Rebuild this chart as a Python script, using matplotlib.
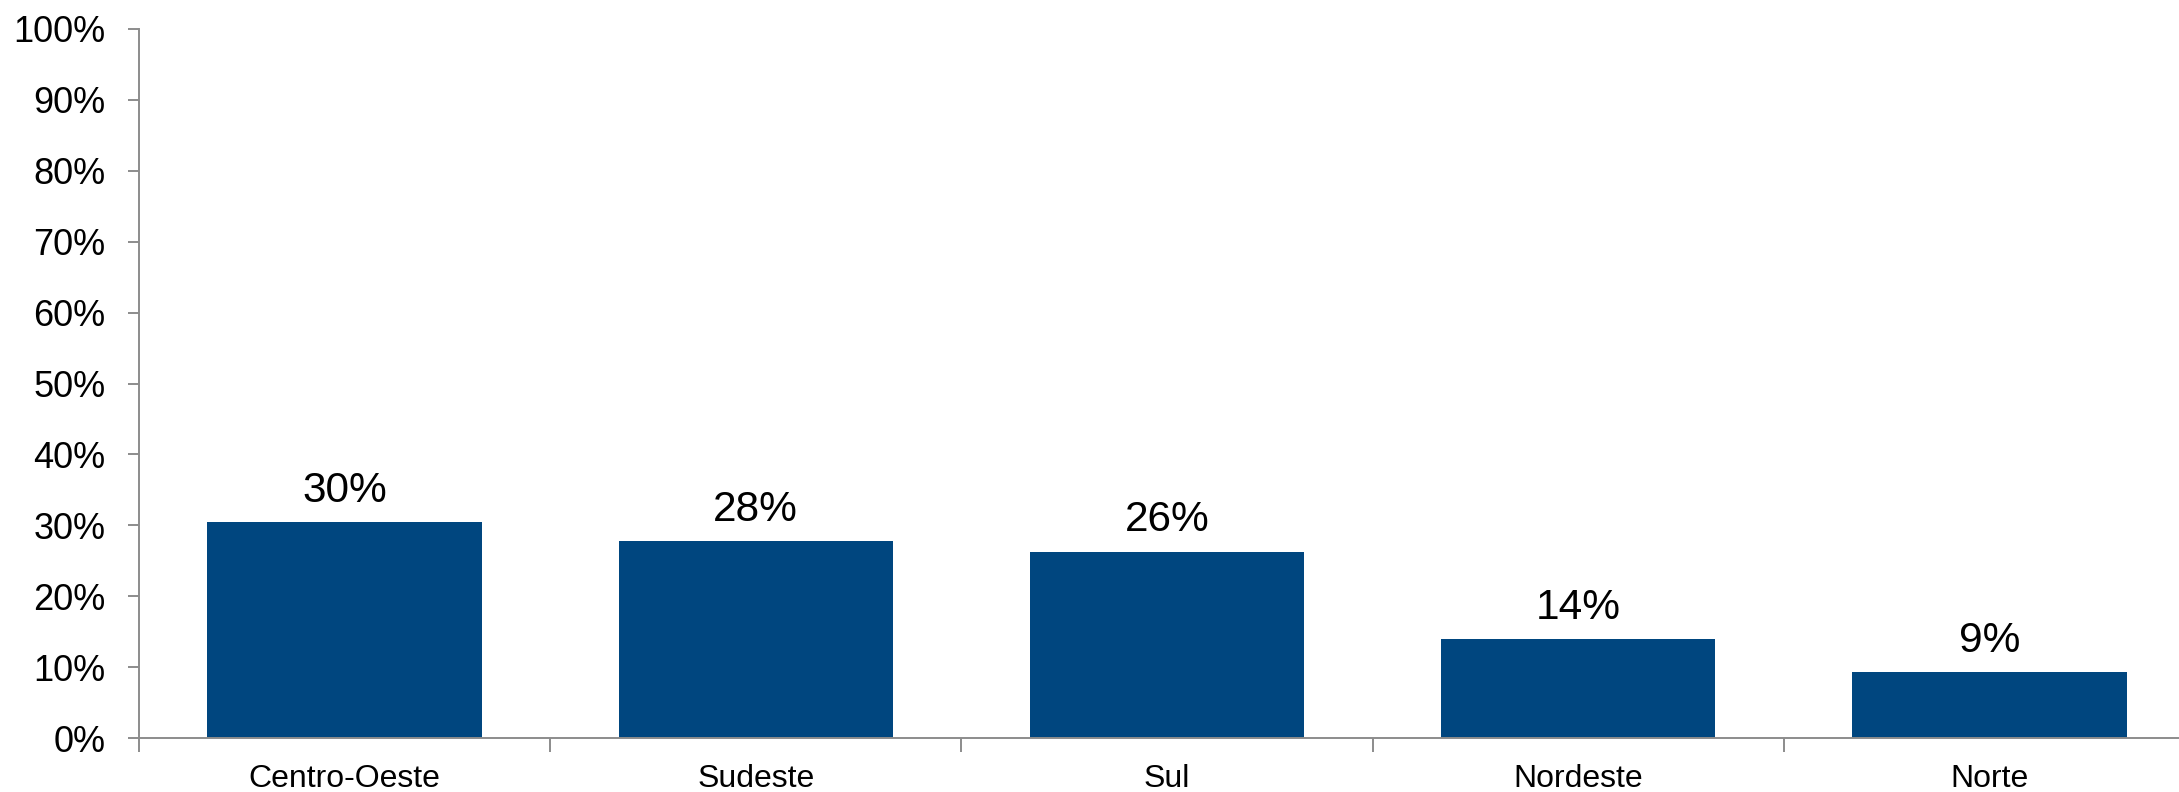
import matplotlib
matplotlib.use("Agg")
import matplotlib.pyplot as plt
from matplotlib.ticker import FixedLocator, MultipleLocator, FuncFormatter

categories = ["Centro-Oeste", "Sudeste", "Sul", "Nordeste", "Norte"]
values = [30.4, 27.8, 26.3, 14.0, 9.3]
labels = ["30%", "28%", "26%", "14%", "9%"]

plt.rcParams['font.family'] = ['Liberation Sans', 'DejaVu Sans']

W, H, DPI = 2179, 792, 100
fig = plt.figure(figsize=(W / DPI, H / DPI), dpi=DPI)
ax = fig.add_axes([139 / W, 1 - 738 / H, (2195 - 139) / W, (738 - 29) / H])

bar_color = "#00467F"
axis_color = "#8c8c8c"
x = list(range(len(categories)))
ax.bar(x, values, width=0.667, color=bar_color, zorder=2)

for xi, v, lab in zip(x, values, labels):
    ax.annotate(lab, xy=(xi, v), xytext=(0, 14.5), textcoords="offset points",
                ha="center", va="baseline", fontsize=30.5, color="black")

ax.set_xlim(-0.5, len(categories) - 0.5)
ax.set_ylim(0, 100)
ax.yaxis.set_major_locator(MultipleLocator(10))
ax.yaxis.set_major_formatter(FuncFormatter(lambda v, p: f"{int(round(v))}%"))

ax.set_xticks(x)
ax.set_xticklabels(categories, fontsize=23)
ax.xaxis.set_minor_locator(FixedLocator([i - 0.5 for i in range(len(categories) + 1)]))
ax.tick_params(axis="x", which="major", length=0, pad=19)
ax.tick_params(axis="x", which="minor", length=10, width=1.4, color=axis_color, direction="out")
ax.tick_params(axis="y", which="major", length=8, width=1.4, color=axis_color,
               direction="out", labelsize=26, pad=16)

for s in ["top", "right"]:
    ax.spines[s].set_visible(False)
for s in ["left", "bottom"]:
    ax.spines[s].set_color(axis_color)
    ax.spines[s].set_linewidth(1.4)
    ax.spines[s].set_zorder(3)

fig.savefig("out.png", dpi=DPI)
